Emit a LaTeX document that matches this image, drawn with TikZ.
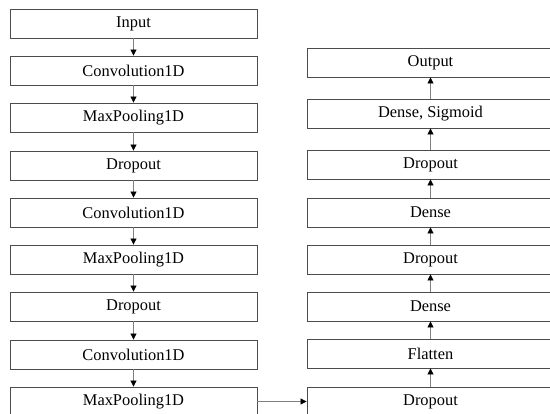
\documentclass[tikz,border=0pt]{standalone}
\usepackage{fontspec}
\setmainfont{Liberation Serif}
\usetikzlibrary{arrows.meta,positioning}

\begin{document}
\begin{tikzpicture}[x=0.75pt,y=-0.75pt]
  \tikzset{ l/.style={draw=black!70,line width=0.65pt,minimum width=185.25pt,minimum height=21.75pt,inner sep=0pt,font=\fontsize{12.3}{14}\selectfont},
    a/.style={draw=gray,line width=0.6pt,-{Triangle[black,length=4.5pt,width=4.5pt]}},
  }
  \useasboundingbox (0,0) rectangle (550,414);
  % left column
  \node[l] (I)  at (133.5, 23.5) {Input};
  \node[l] (C1) at (133.5, 70.5) {Convolution1D};
  \node[l] (M1) at (133.5,117.5) {MaxPooling1D};
  \node[l] (D1) at (133.5,165.5) {Dropout};
  \node[l] (C2) at (133.5,212.5) {Convolution1D};
  \node[l] (M2) at (133.5,259.5) {MaxPooling1D};
  \node[l] (D2) at (133.5,306.5) {Dropout};
  \node[l] (C3) at (133.5,354.5) {Convolution1D};
  \node[l] (M3) at (133.5,401.5) {MaxPooling1D};
  % right column
  \node[l] (D3) at (430.5,401.5) {Dropout};
  \node[l] (F)  at (430.5,353.5) {Flatten};
  \node[l] (E1) at (430.5,306.5) {Dense};
  \node[l] (D4) at (430.5,259.5) {Dropout};
  \node[l] (E2) at (430.5,212.5) {Dense};
  \node[l] (D5) at (430.5,164.5) {Dropout};
  \node[l] (E3) at (430.5,113.5) {Dense, Sigmoid};
  \node[l] (O)  at (430.5, 62.5) {Output};

  \draw[a] (I) -- (C1);
  \draw[a] (C1) -- (M1);
  \draw[a] (M1) -- (D1);
  \draw[a] (D1) -- (C2);
  \draw[a] (C2) -- (M2);
  \draw[a] (M2) -- (D2);
  \draw[a] (D2) -- (C3);
  \draw[a] (C3) -- (M3);
  \draw[a] (M3) -- (D3);
  \draw[a] (D3) -- (F);
  \draw[a] (F) -- (E1);
  \draw[a] (E1) -- (D4);
  \draw[a] (D4) -- (E2);
  \draw[a] (E2) -- (D5);
  \draw[a] (D5) -- (E3);
  \draw[a] (E3) -- (O);
\end{tikzpicture}
\end{document}
